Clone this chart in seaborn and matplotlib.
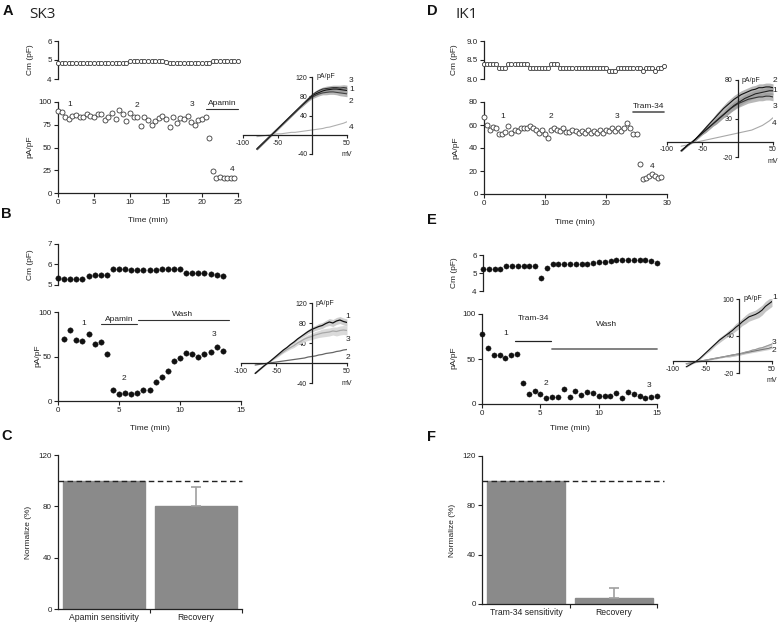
import numpy as np
import matplotlib
matplotlib.use("Agg")
import matplotlib.pyplot as plt
import seaborn as sns

sns.set_theme(style="ticks")
plt.rcParams["font.family"] = ["Liberation Sans", "DejaVu Sans"]
plt.rcParams["axes.linewidth"] = 0.9
plt.rcParams["axes.edgecolor"] = "#222222"
plt.rcParams["xtick.color"] = "#222222"
plt.rcParams["ytick.color"] = "#222222"
plt.rcParams["text.color"] = "#222222"
plt.rcParams["axes.unicode_minus"] = False

# ---------------- data ----------------
# Panel A (SK3)
tA_cm = np.arange(0, 25.01, 0.5)
cmA = ([4.85] * 20 + [4.95] * 10 + [4.9] + [4.85] * 12 + [4.95] * 8)
tA = np.arange(0, 24.51, 0.5)
curA = [90, 89, 84, 81, 85, 86, 83, 83, 87, 85, 83, 87, 87, 80, 83, 88, 81, 91, 87, 79,
        88, 83, 84, 74, 83, 80, 75, 79, 82, 85, 81, 73, 84, 77, 82, 81, 85, 78, 75, 80,
        81, 84, 60, 24, 16, 18, 17, 16, 16, 16]

# Panel B (SK3 washout)
tB_cm = np.arange(0, 13.51, 0.5)
cmB = [5.35, 5.3, 5.3, 5.3, 5.3, 5.45, 5.48, 5.48, 5.48, 5.8, 5.8, 5.8, 5.75, 5.75,
       5.75, 5.75, 5.75, 5.78, 5.78, 5.78, 5.78, 5.58, 5.58, 5.58, 5.58, 5.55, 5.5, 5.42]
tB = np.arange(0.5, 13.51, 0.5)
curB = [70, 80, 69, 67, 75, 64, 66, 53, 12, 8, 9, 7.5, 9, 12, 12, 21, 27, 34, 45, 48,
        54, 53, 49, 53, 55, 61, 56]

# Panel D (IK1)
tD_cm = np.arange(0, 29.51, 0.5)
cmD = ([8.4] * 5 + [8.3] * 3 + [8.4] * 7 + [8.3] * 7 + [8.4] * 3 + [8.3] * 16 +
       [8.2] * 3 + [8.3] * 8 + [8.22] + [8.3] * 3 + [8.22] + [8.3, 8.28, 8.33])
tD = np.arange(0, 29.01, 0.5)
curD = [67, 60, 56, 58, 57, 52, 52, 54, 59, 53, 56, 55, 57, 57, 57, 59, 57, 56, 53, 56,
        52, 49, 56, 57, 56, 55, 57, 54, 54, 56, 55, 53, 55, 53, 56, 53, 55, 53, 56, 53,
        56, 55, 57, 55, 57, 55, 57, 62, 57, 52, 52, 26, 13, 14, 16, 17, 16, 14, 15]

# Panel E (IK1 washout)
tE = np.arange(0, 15.01, 0.5)
cmE = [5.2, 5.2, 5.2, 5.2, 5.4, 5.4, 5.4, 5.4, 5.4, 5.4, 4.75, 5.3, 5.5, 5.5, 5.5, 5.5,
       5.5, 5.5, 5.5, 5.55, 5.6, 5.6, 5.65, 5.7, 5.7, 5.7, 5.7, 5.7, 5.7, 5.65, 5.55]
curE = [78, 62, 54, 54, 51, 54, 56, 23, 11, 14, 11, 7, 8, 8, 17, 8, 14, 10, 13, 12,
        9, 9, 9, 12, 7, 13, 11, 9, 7, 8, 9]

# I-V ramps (mV)
V = [-80, -75, -70, -65, -60, -55, -50, -45, -40, -35, -30, -25, -20, -15, -10, -5, 0,
     5, 10, 15, 20, 25, 30, 35, 40, 45, 50]
ivA1 = [-30, -23, -16, -9, -2, 5, 12, 19, 26, 33, 40, 47, 54, 61, 68, 75, 81, 85, 88, 91, 93, 94, 95, 95, 94, 93, 92]
ivA2 = [-30, -23, -16, -9, -2, 5, 12, 19, 26, 33, 40, 47, 54, 61, 67, 73, 78, 82, 85, 87, 88, 89, 89, 88, 87, 86, 85]
ivA3 = [-29, -22, -15, -8, -1, 6, 13, 20, 27, 34, 41, 48, 55, 62, 69, 76, 83, 88, 92, 95, 96, 97, 98, 98, 97, 98, 97]
ivA4 = [-4, -3, -2, -1, 0, 1, 2, 2, 3, 4, 5, 5, 6, 7, 8, 9, 10, 11, 12, 13, 15, 16, 18, 20, 22, 24, 27]
semA = [2, 2, 2, 2, 2, 2, 2, 2, 2, 2, 2, 2, 2, 3, 3, 3, 3, 4, 4, 4, 5, 5, 5, 5, 6, 6, 6]

ivB1 = [-21, -15, -9, -3, 2, 8, 14, 20, 26, 31, 37, 42, 48, 53, 58, 63, 67, 70, 73, 75, 79, 82, 80, 84, 86, 83, 81]
ivB3 = [-20, -14, -8, -3, 2, 7, 12, 17, 22, 27, 31, 35, 40, 44, 48, 51, 53, 56, 58, 60, 61, 62, 64, 63, 65, 66, 65]
ivB2 = [-4, -3, -2, -1, 0, 1, 2, 3, 4, 5, 6, 7, 8, 9, 10, 12, 13, 14, 16, 17, 19, 20, 21, 23, 24, 26, 27]
semB1 = [1, 1, 1, 1, 1, 1, 1, 2, 2, 2, 2, 3, 3, 3, 4, 4, 5, 5, 6, 6, 6, 7, 7, 7, 7, 7, 7]
semB3 = [1, 1, 1, 1, 1, 1, 2, 2, 2, 3, 3, 4, 4, 5, 5, 6, 6, 7, 7, 8, 8, 8, 8, 9, 9, 9, 9]

ivD1 = [-12, -8, -4, -1, 3, 7, 11, 15, 19, 23, 27, 31, 35, 39, 43, 47, 50, 53, 56, 58, 60, 62, 63, 64, 65, 66, 66]
ivD2 = [-12, -8, -4, -1, 3, 8, 13, 18, 23, 28, 33, 38, 43, 47, 51, 55, 58, 61, 63, 65, 67, 68, 70, 70, 71, 71, 70]
ivD3 = [-12, -8, -4, -1, 3, 7, 11, 15, 19, 23, 27, 31, 35, 39, 43, 46, 49, 51, 53, 55, 56, 57, 58, 58, 59, 59, 58]
ivD4 = [-6, -5, -4, -2, -1, 0, 1, 2, 3, 4, 5, 6, 7, 8, 9, 10, 11, 12, 13, 14, 15, 17, 19, 21, 24, 27, 31]
semD = [1, 1, 1, 1, 2, 2, 2, 3, 3, 3, 4, 4, 4, 5, 5, 5, 5, 5, 5, 5, 5, 5, 5, 5, 5, 5, 5]

ivE1 = [-10, -7, -4, -1, 3, 8, 13, 18, 23, 28, 33, 37, 41, 45, 49, 54, 58, 63, 67, 71, 73, 75, 78, 82, 88, 92, 96]
ivE2 = [-5, -4, -3, -2, -1, 0, 1, 2, 3, 4, 5, 6, 7, 8, 9, 10, 11, 12, 13, 14, 15, 16, 17, 18, 19, 20, 22]
ivE3 = [-5, -4, -3, -2, -1, 0, 1, 2, 3, 4, 5, 6, 7, 8, 9, 10, 11, 12, 14, 15, 17, 18, 20, 21, 23, 25, 27]
semE1 = [1, 1, 1, 1, 2, 2, 2, 3, 3, 3, 4, 4, 4, 5, 5, 6, 6, 6, 7, 7, 7, 7, 8, 8, 8, 8, 8]
semE23 = [1, 1, 1, 1, 1, 1, 1, 1, 1, 1, 1, 1, 1, 2, 2, 2, 2, 2, 2, 2, 2, 2, 2, 2, 2, 2, 2]

# Bar panels
catsC = ["Apamin sensitivity", "Recovery"]
valsC = [100, 80]
errC = [0, 15]
catsF = ["Tram-34 sensitivity", "Recovery"]
valsF = [100, 5]
errF = [0, 8]

# ---------------- figure ----------------
W, H = 781, 624
fig = plt.figure(figsize=(W / 100, H / 100), dpi=100)


def add_ax(x0, y0, x1, y1):
    ax = fig.add_axes([x0 / W, 1 - y1 / H, (x1 - x0) / W, (y1 - y0) / H])
    ax.patch.set_alpha(0)
    return ax


def ftext(x, y, s, **kw):
    kw.setdefault("ha", "center")
    kw.setdefault("va", "center")
    kw.setdefault("fontsize", 6)
    fig.text(x / W, 1 - y / H, s, **kw)


def tc_axes(rect, xlim, ylim, yticks, xticks=None, ylabels=None):
    ax = add_ax(*rect)
    ax.set_xlim(xlim)
    ax.set_ylim(ylim)
    sns.despine(ax=ax)
    if xticks is None:
        ax.spines["bottom"].set_visible(False)
        ax.set_xticks([])
    else:
        ax.set_xticks(xticks)
    ax.set_yticks(yticks)
    if ylabels is not None:
        ax.set_yticklabels(ylabels)
    ax.tick_params(direction="out", length=3, width=0.8, labelsize=5.8, pad=1.5)
    return ax


def dots(ax, t, y, filled=False, s=12):
    if filled:
        sns.scatterplot(x=t, y=y, ax=ax, s=s, color="#111111", edgecolor="#111111",
                        linewidth=0.3, clip_on=False, zorder=3, legend=False)
    else:
        sns.scatterplot(x=t, y=y, ax=ax, s=s, color="white", edgecolor="#3a3a3a",
                        linewidth=0.6, clip_on=False, zorder=3, legend=False)
    ax.set_xlabel("")
    ax.set_ylabel("")


def iv_axes(rect, ylim, yticks):
    ax = add_ax(*rect)
    ax.set_xlim(-100, 50)
    ax.set_ylim(ylim)
    ax.spines["left"].set_position(("data", 0))
    ax.spines["bottom"].set_position(("data", 0))
    ax.spines["top"].set_visible(False)
    ax.spines["right"].set_visible(False)
    for s in ["left", "bottom"]:
        ax.spines[s].set_linewidth(0.9)
    ax.set_xticks([-100, -50, 50])
    ax.set_yticks(yticks)
    ax.tick_params(direction="out", length=2.5, width=0.8, labelsize=5, pad=1)
    ax.annotate("mV", xy=(50, 0), xytext=(0, -12), textcoords="offset points",
                ha="center", va="top", fontsize=5)
    ax.annotate("pA/pF", xy=(0, ylim[1]), xytext=(3, 0), textcoords="offset points",
                ha="left", va="center", fontsize=5)
    return ax


def iv_line(ax, y, color, lw=0.8, sem=None, band="#9a9a9a", alpha=0.7):
    if sem is not None:
        lo = [a - b for a, b in zip(y, sem)]
        hi = [a + b for a, b in zip(y, sem)]
        ax.fill_between(V, lo, hi, color=band, alpha=alpha, lw=0, zorder=1)
    sns.lineplot(x=V, y=y, ax=ax, color=color, lw=lw, zorder=2, legend=False)
    ax.set_xlabel("")
    ax.set_ylabel("")


def bar_panel(rect, cats, vals, errs, xmax, dash_end):
    ax = add_ax(*rect)
    sns.barplot(x=cats, y=vals, ax=ax, color="#8a8a8a", saturation=1, width=0.89,
                errorbar=None, edgecolor="#8a8a8a")
    for i, (v, e) in enumerate(zip(vals, errs)):
        if e > 0:
            ax.errorbar([i], [v], yerr=[[0], [e]], fmt="none", ecolor="#a0a0a0",
                        elinewidth=1.2, capsize=3.5, capthick=1.2)
    ax.plot([-0.5, dash_end], [100, 100], ls=(0, (4, 2.5)), color="#222222", lw=1.0,
            clip_on=False, zorder=5)
    ax.set_xlim(-0.5, xmax)
    ax.set_ylim(0, 120)
    ax.set_yticks([0, 40, 80, 120])
    sns.despine(ax=ax)
    ax.set_xlabel("")
    ax.set_ylabel("")
    ax.tick_params(axis="y", direction="out", length=3, width=0.8, labelsize=5.8, pad=1.5)
    ax.tick_params(axis="x", which="major", length=0, labelsize=6.2, pad=3)
    ax.set_xticks([0.5, xmax], minor=True)
    ax.tick_params(axis="x", which="minor", direction="out", length=3, width=0.8)
    return ax


# ===== Panel A =====
axAc = tc_axes((58, 41, 238, 79), (0, 25), (4, 6), [4, 5, 6])
dots(axAc, tA_cm, cmA, s=9)
axAc.set_xlim(0, 25); axAc.set_ylim(4, 6)

axA = tc_axes((58, 102, 238, 193), (0, 25), (0, 100), [0, 25, 50, 75, 100], xticks=[0, 5, 10, 15, 20, 25])
dots(axA, tA, curA, s=13)
axA.set_xlim(0, 25); axA.set_ylim(0, 100)
for t, yv, s in [(1.6, 97, "1"), (11.0, 96, "2"), (18.6, 97, "3"), (24.2, 26, "4")]:
    axA.text(t, yv, s, fontsize=6, ha="center", va="center")
axA.plot([20.5, 25], [92.5, 92.5], color="#333333", lw=0.8, clip_on=False)
axA.text(22.8, 94.5, "Apamin", fontsize=6, ha="center", va="bottom")

ivA = iv_axes((243, 77, 347, 154), (-40, 120), [-40, 40, 80, 120])
iv_line(ivA, ivA4, "#b0b0b0")
iv_line(ivA, ivA2, "#444444", sem=semA)
iv_line(ivA, ivA1, "#111111", sem=semA)
iv_line(ivA, ivA3, "#333333", sem=semA)
ivA.set_xlim(-100, 50); ivA.set_ylim(-40, 120)
for yv, s in [(112, "3"), (94, "1"), (70, "2"), (16, "4")]:
    ivA.text(53, yv, s, fontsize=6, ha="left", va="center", clip_on=False)

ftext(30, 60, "Cm (pF)", rotation=90)
ftext(30, 147, "pA/pF", rotation=90)
ftext(148, 220, "Time (min)")

# ===== Panel B =====
axBc = tc_axes((58, 244, 241, 285), (0, 15), (5, 7), [5, 6, 7])
dots(axBc, tB_cm, cmB, filled=True, s=15)
axBc.set_xlim(0, 15); axBc.set_ylim(5, 7)

axB = tc_axes((58, 312, 241, 401), (0, 15), (0, 100), [0, 50, 100], xticks=[0, 5, 10, 15])
dots(axB, tB, curB, filled=True, s=15)
axB.set_xlim(0, 15); axB.set_ylim(0, 100)
for t, yv, s in [(2.1, 87, "1"), (5.4, 25, "2"), (12.8, 75, "3")]:
    axB.text(t, yv, s, fontsize=6, ha="center", va="center")
axB.plot([3.55, 6.5], [86, 86], color="#333333", lw=0.8)
axB.text(5.05, 88, "Apamin", fontsize=6, ha="center", va="bottom")
axB.plot([6.55, 14.05], [91, 91], color="#333333", lw=0.8)
axB.text(10.2, 93, "Wash", fontsize=6, ha="center", va="bottom")

ivB = iv_axes((241, 303, 347, 383), (-40, 120), [-40, 40, 80, 120])
iv_line(ivB, ivB2, "#666666", lw=0.9)
iv_line(ivB, ivB3, "#a8a8a8", lw=0.9, sem=semB3, band="#d6d6d6", alpha=0.9)
iv_line(ivB, ivB1, "#111111", lw=0.9, sem=semB1, band="#c4c4c4", alpha=0.8)
ivB.set_xlim(-100, 50); ivB.set_ylim(-40, 120)
for yv, s in [(94, "1"), (48, "3"), (12, "2")]:
    ivB.text(48, yv, s, fontsize=6, ha="left", va="center", clip_on=False)

ftext(30, 265, "Cm (pF)", rotation=90)
ftext(38, 356, "pA/pF", rotation=90)
ftext(150, 428, "Time (min)")

# ===== Panel C =====
axC = bar_panel((58, 455, 242, 609), catsC, valsC, errC, 1.5, 1.5)
ftext(28, 532, "Normalize (%)", rotation=90)

# ===== Panel D =====
axDc = tc_axes((484, 41, 667, 79), (0, 30), (8, 9), [8.0, 8.5, 9.0], ylabels=["8.0", "8.5", "9.0"])
dots(axDc, tD_cm, cmD, s=9)
axDc.set_xlim(0, 30); axDc.set_ylim(8, 9)

axD = tc_axes((484, 102, 667, 194), (0, 30), (0, 80), [0, 20, 40, 60, 80], xticks=[0, 10, 20, 30])
dots(axD, tD, curD, s=13)
axD.set_xlim(0, 30); axD.set_ylim(0, 80)
for t, yv, s in [(3.0, 67, "1"), (11.0, 67, "2"), (21.8, 67, "3"), (27.6, 24, "4")]:
    axD.text(t, yv, s, fontsize=6, ha="center", va="center")
axD.plot([24.4, 29.5], [71, 71], color="#555555", lw=1.2, clip_on=False)
axD.text(27.0, 73, "Tram-34", fontsize=6, ha="center", va="bottom")

ivD = iv_axes((667, 80, 773, 157), (-20, 80), [-20, 30, 80])
iv_line(ivD, ivD4, "#a8a8a8")
iv_line(ivD, ivD3, "#333333", sem=semD)
iv_line(ivD, ivD1, "#222222", sem=semD)
iv_line(ivD, ivD2, "#111111", sem=semD)
ivD.set_xlim(-100, 50); ivD.set_ylim(-20, 80)
for yv, s in [(80, "2"), (67, "1"), (45, "3"), (24, "4")]:
    ivD.text(49, yv, s, fontsize=6, ha="left", va="center", clip_on=False)

ftext(455, 60, "Cm (pF)", rotation=90)
ftext(456, 148, "pA/pF", rotation=90)
ftext(575, 222, "Time (min)")

# ===== Panel E =====
axEc = tc_axes((483, 255, 657, 291), (0, 15), (4, 6), [4, 5, 6])
dots(axEc, tE, cmE, filled=True, s=14)
axEc.set_xlim(0, 15); axEc.set_ylim(4, 6)

axE = tc_axes((482, 314, 657, 404), (0, 15), (0, 100), [0, 50, 100], xticks=[0, 5, 10, 15])
dots(axE, tE, curE, filled=True, s=14)
axE.set_xlim(0, 15); axE.set_ylim(0, 100)
for t, yv, s in [(2.0, 78, "1"), (5.5, 23, "2"), (14.3, 21, "3")]:
    axE.text(t, yv, s, fontsize=6, ha="center", va="center")
axE.plot([2.8, 5.9], [70, 70], color="#222222", lw=0.9)
axE.text(4.4, 95, "Tram-34", fontsize=6, ha="center", va="center")
axE.plot([6.0, 15.0], [61, 61], color="#777777", lw=1.3, clip_on=False)
axE.text(10.7, 88, "Wash", fontsize=6, ha="center", va="center")

ivE = iv_axes((673, 299, 772, 373), (-20, 100), [-20, 40, 100])
iv_line(ivE, ivE2, "#777777", sem=semE23, band="#bbbbbb")
iv_line(ivE, ivE3, "#999999", sem=semE23, band="#bbbbbb")
iv_line(ivE, ivE1, "#111111", sem=semE1, band="#a0a0a0", alpha=0.6)
ivE.set_xlim(-100, 50); ivE.set_ylim(-20, 100)
for yv, s in [(102, "1"), (30, "3"), (16, "2")]:
    ivE.text(50, yv, s, fontsize=6, ha="left", va="center", clip_on=False)

ftext(455, 273, "Cm (pF)", rotation=90)
ftext(454, 358, "pA/pF", rotation=90)
ftext(570, 429, "Time (min)")

# ===== Panel F =====
axF = bar_panel((482, 456, 657, 604), catsF, valsF, errF, 1.49, 1.57)
ftext(453, 530, "Normalize (%)", rotation=90)

# ===== panel letters and titles =====
for x, y, s in [(8, 11, "A"), (6, 214, "B"), (7, 436, "C"), (432, 11, "D"), (432, 220, "E"), (432, 437, "F")]:
    ftext(x, y, s, fontsize=10.5, fontweight="bold", color="#111111")
ftext(42, 15, "SK3", fontsize=11, family=["Open Sans", "DejaVu Sans"], color="#222222")
ftext(467, 15, "IK1", fontsize=11, family=["Open Sans", "DejaVu Sans"], color="#222222")

fig.savefig("out.png", dpi=100, facecolor="white")
